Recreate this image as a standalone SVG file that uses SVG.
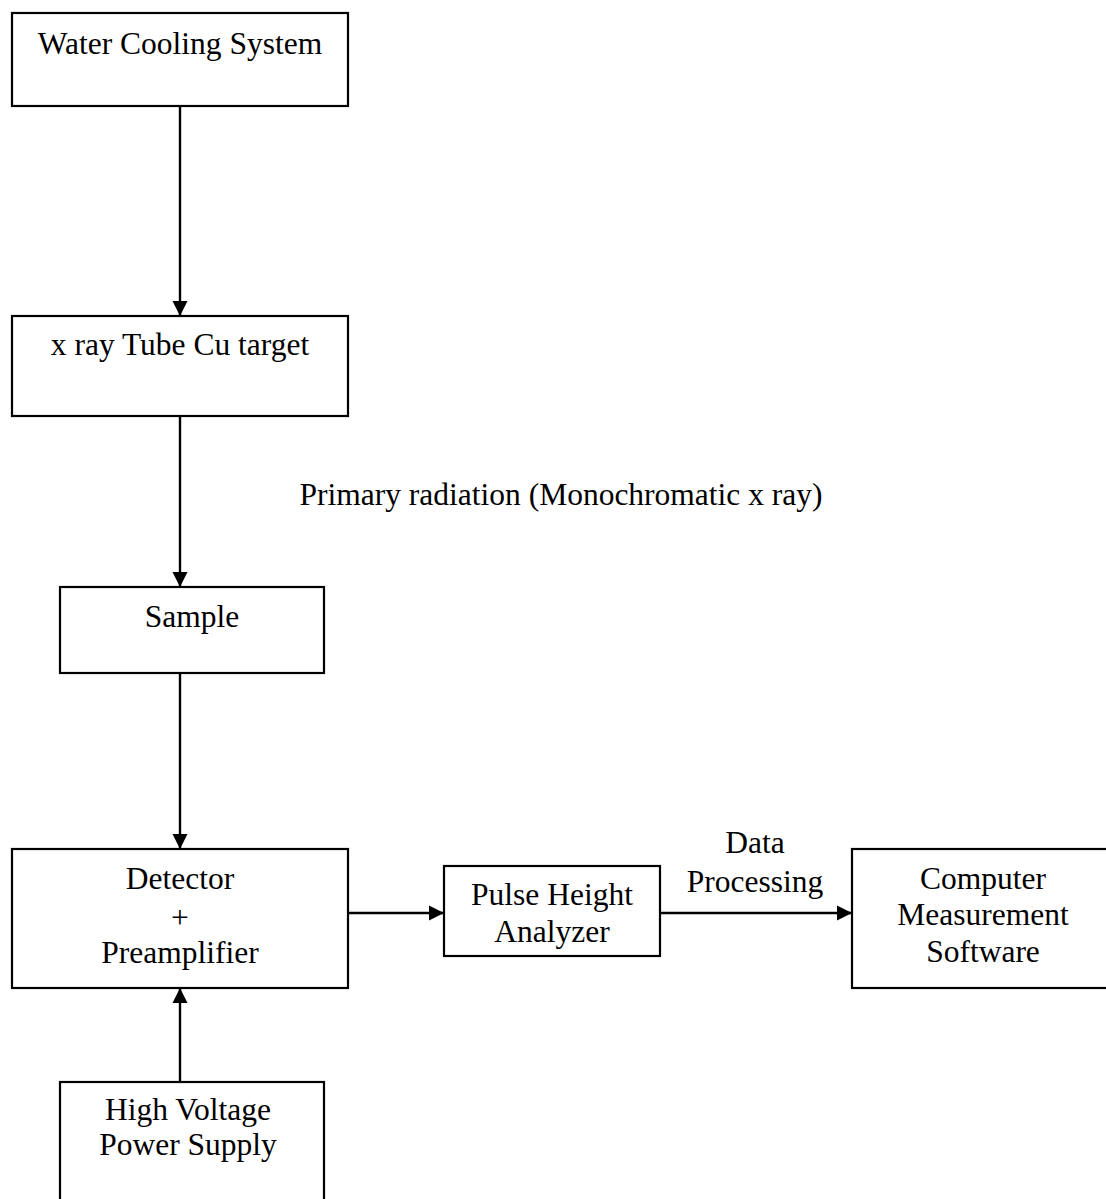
<svg xmlns="http://www.w3.org/2000/svg" width="1106" height="1199" viewBox="0 0 1106 1199">
<style>
.box{fill:#fff;stroke:#000;stroke-width:2.2}
.t{font-family:"Liberation Serif","Times New Roman",serif;font-size:31.5px;fill:#000;text-anchor:middle}
.c{stroke:#000;stroke-width:2.4;fill:none}
</style>
<defs>
<marker id="ah" markerUnits="userSpaceOnUse" markerWidth="16" markerHeight="16" viewBox="0 0 16 16" refX="15" refY="8" orient="auto">
<path d="M0,0.5 L15,8 L0,15.5 Z" fill="#000"/>
</marker>
</defs>
<rect width="1106" height="1199" fill="#fff"/>
<g id="connectors">
<line class="c" x1="180" y1="106" x2="180" y2="316" marker-end="url(#ah)"/>
<line class="c" x1="180" y1="416" x2="180" y2="587" marker-end="url(#ah)"/>
<line class="c" x1="180" y1="673" x2="180" y2="849" marker-end="url(#ah)"/>
<line class="c" x1="180" y1="1082" x2="180" y2="988" marker-end="url(#ah)"/>
<line class="c" x1="348" y1="913" x2="444" y2="913" marker-end="url(#ah)"/>
<line class="c" x1="660" y1="913" x2="852" y2="913" marker-end="url(#ah)"/>
<text class="t" x="561" y="505">Primary radiation (Monochromatic x ray)</text>
<text class="t" x="755" y="853">Data</text>
<text class="t" x="755" y="892">Processing</text>
</g>
<g id="water">
<rect class="box" x="12" y="13" width="336" height="93"/>
<text class="t" x="180" y="54">Water Cooling System</text>
</g>
<g id="xray">
<rect class="box" x="12" y="316" width="336" height="100"/>
<text class="t" x="180" y="355">x ray Tube Cu target</text>
</g>
<g id="sample">
<rect class="box" x="60" y="587" width="264" height="86"/>
<text class="t" x="192" y="627">Sample</text>
</g>
<g id="detector">
<rect class="box" x="12" y="849" width="336" height="139"/>
<text class="t" x="180" y="889">Detector</text>
<text class="t" x="180" y="928">+</text>
<text class="t" x="180" y="963">Preamplifier</text>
</g>
<g id="pha">
<rect class="box" x="444" y="866" width="216" height="90"/>
<text class="t" x="552" y="905">Pulse Height</text>
<text class="t" x="552" y="942">Analyzer</text>
</g>
<g id="computer">
<rect class="box" x="852" y="849" width="270" height="139"/>
<text class="t" x="983" y="889">Computer</text>
<text class="t" x="983" y="925">Measurement</text>
<text class="t" x="983" y="962">Software</text>
</g>
<g id="hv">
<rect class="box" x="60" y="1082" width="264" height="130"/>
<text class="t" x="188" y="1120">High Voltage</text>
<text class="t" x="188" y="1155">Power Supply</text>
</g>
</svg>
